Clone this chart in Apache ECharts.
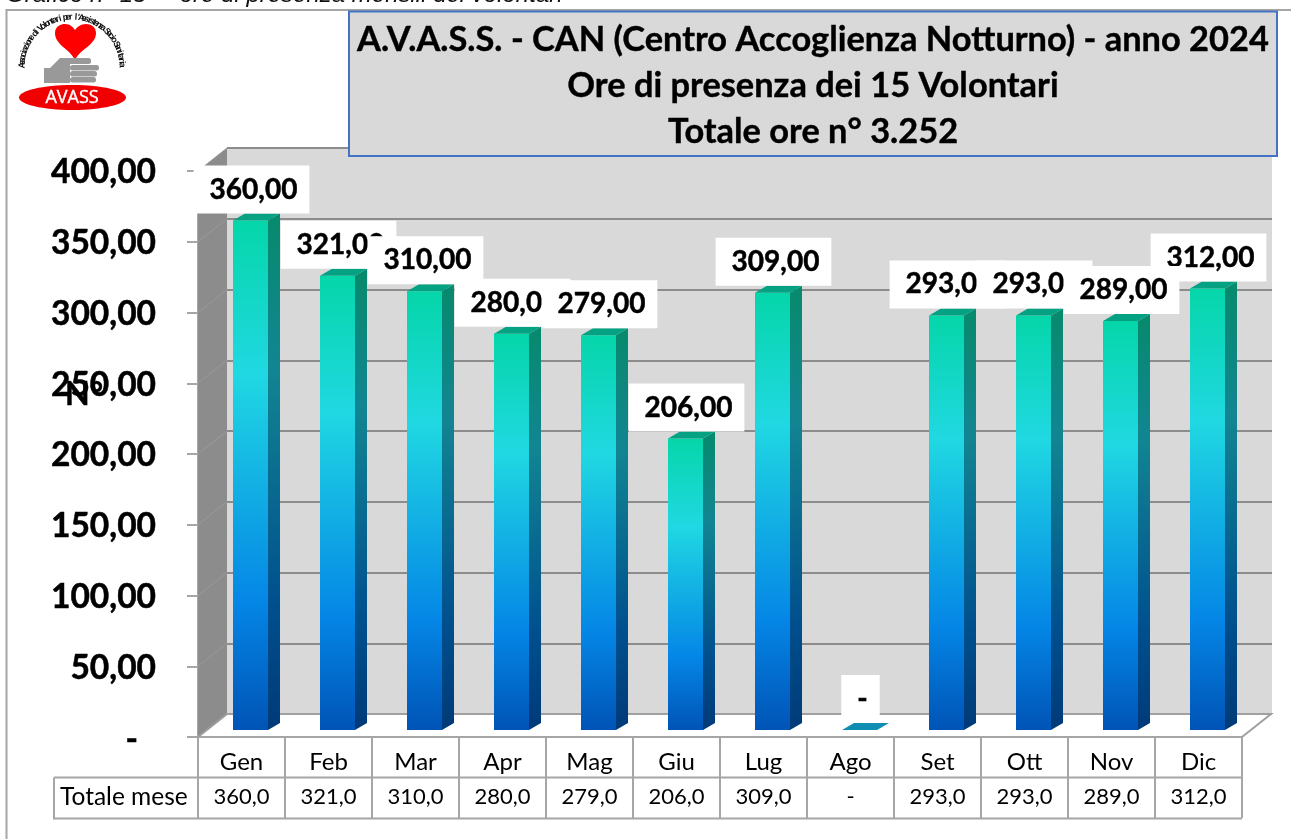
<!DOCTYPE html>
<html>
<head>
<meta charset="utf-8">
<style>html,body{margin:0;padding:0;background:#fff}#c{width:1291px;height:839px}</style>
<script src="https://cdn.jsdelivr.net/npm/echarts@6/dist/echarts.min.js"></script>
</head>
<body>
<div id="c"></div>
<script>
const categories = ['Gen','Feb','Mar','Apr','Mag','Giu','Lug','Ago','Set','Ott','Nov','Dic'];
const oreMese = [360,321,310,280,279,206,309,0,293,293,289,312];
const yTicks = [0,50,100,150,200,250,300,350,400];
const titleLines = ['A.V.A.S.S. - CAN (Centro Accoglienza Notturno) - anno 2024','Ore di presenza dei 15 Volontari','Totale ore n° 3.252'];
const caption = 'Grafico n° 15  – ore di presenza mensili dei volontari';
const rowLabel = 'Totale mese';
const yName = 'N°';
const arcText = "Associazione di Volontari per l'Assistenza Socio Sanitaria";

const FONT = 'Lato, "Open Sans", sans-serif';
const G = '#a6a6a6';
const grad = (s) => ({type:'linear',x:0,y:0,x2:0,y2:1,colorStops:s.map(([o,c])=>({offset:o,color:c}))});
const frontGrad = grad([[0,'#05d6a9'],[.3,'#20d8e2'],[.75,'#0486e6'],[1,'#0054b6']]);
const sideGrad = grad([[0,'#078a6c'],[.3,'#128592'],[.75,'#00508e'],[1,'#003a78']]);
const num2 = v => v === 0 ? '-' : v.toFixed(2).replace('.',',');
const num1 = v => v === 0 ? '-' : v.toFixed(1).replace('.',',');

const FL = 198, FT = 171, FW = 1044, FH = 566;   // front plane
const DX = 29, DY = 23;                          // depth of the box
const BOX = {left:FL, top:FT, width:FW, height:FH};

function renderWall(params, api){
  const v = api.value(0);
  const cs = params.coordSys;
  const y = api.coord([0,v])[1];
  const children = [];
  if (params.dataIndex === 0) {
    const yt = api.coord([0,400])[1];
    children.push({type:'polygon',shape:{points:[[cs.x,y],[cs.x+DX,y-DY],[cs.x+DX,yt-DY],[cs.x,yt]]},style:{fill:'#8c8c8c'}});
    children.push({type:'polyline',shape:{points:[[cs.x,y],[cs.x+DX,y-DY],[cs.x+cs.width+DX,y-DY],[cs.x+cs.width,y]]},style:{fill:'none',stroke:'#a0a0a0',lineWidth:2}});
  }
  children.push({type:'line',shape:{x1:cs.x,y1:y,x2:cs.x+DX,y2:y-DY},style:{stroke:'#9a9a9a',lineWidth:1}});
  return {type:'group',children};
}

function renderBar(params, api){
  const i = api.value(0), v = api.value(1);
  const [cx, yv] = api.coord([i, v]);
  const y0 = api.coord([i, 0])[1];
  const dx = 9, dy = -7, hw = 17.5, sx = 12, sy = 7;
  const l = cx+dx-hw, r = cx+dx+hw, top = yv+dy, base = y0+dy;
  const children = [];
  if (v > 0) {
    children.push({type:'polygon',shape:{points:[[r,top],[r+sx,top-sy],[r+sx,base-sy],[r,base]]},style:{fill:sideGrad}});
    children.push({type:'rect',shape:{x:l,y:top,width:r-l,height:base-top},style:{fill:frontGrad}});
  }
  children.push({type:'polygon',shape:{points:[[l,top],[l+sx,top-sy],[r+sx,top-sy],[r,top]]},style:{fill:v>0?'#04a282':'#0f8db2'}});
  // the last label sits under its neighbour in the reference
  const labelZ = i === categories.length-1 ? 99 : 100+i;
  children.push({type:'text',z2:labelZ,style:{text:num2(v),x:cx+dx+1,y:top-sy-24,align:'center',verticalAlign:'middle',
    font:'bold 28px '+FONT,fill:'#000',stroke:'#000',lineWidth:0.5,backgroundColor:'#fff',padding:[12,12,8,16]}});
  return {type:'group',children};
}

function renderLogo(){
  const logo = [];
  logo.push({type:'path',shape:{pathData:'M75 60 C70 49 55 45 55 33 C55 26 61 24 65 24 C70 24 73 27 75 30 C77 27 81 24 86 24 C91 24 96 27 96 33 C96 45 80 49 75 60 Z',x:55,y:24,width:41,height:36,layout:'cover'},style:{fill:'#ff0000'}});
  logo.push({type:'polygon',shape:{points:[[44,83],[44,68],[50,68],[60,58],[70,58],[70,83]]},style:{fill:'#999'}});
  [[60,58,31,6],[70,65,29,5.5],[70,71,27,5.5],[70,77,26,5.5]].forEach(a=>logo.push({type:'rect',shape:{x:a[0],y:a[1],width:a[2],height:a[3],r:2.5},style:{fill:'#999'}}));
  logo.push({type:'ellipse',shape:{cx:72.5,cy:97.5,rx:53.5,ry:12.5},style:{fill:'#f00000'}});
  logo.push({type:'text',style:{text:'AVASS',x:72,y:98,align:'center',verticalAlign:'middle',font:'18px "Open Sans",sans-serif',fill:'#fff',stroke:'#fff',lineWidth:0.4}});
  [...arcText].forEach((ch,k,arr)=>{
    const th = (-88 + 176*k/(arr.length-1))*Math.PI/180;
    logo.push({type:'text',rotation:-th,x:72+50*Math.sin(th),y:67-50*Math.cos(th),
      style:{text:ch,x:0,y:0,align:'center',verticalAlign:'middle',font:'bold 9px "Liberation Sans Narrow","Liberation Sans",sans-serif',fill:'#111'}});
  });
  return {type:'group',children:logo};
}

const graphics = [
  {type:'text',z:1,style:{text:caption,x:6,y:-17,font:'italic 24px "Liberation Sans",sans-serif',fill:'#111'}},
  {type:'polyline',z:1,shape:{points:[[6.5,839],[6.5,10],[1291,10]]},style:{fill:'none',stroke:G,lineWidth:2}},
  {type:'rect',z:50,shape:{x:349,y:11.5,width:928,height:144.5},style:{fill:'#d9d9d9',stroke:'#4472c4',lineWidth:2}},
  {type:'polyline',z:1,shape:{points:[[54,777.5],[54,818.5],[1242,818.5]]},style:{fill:'none',stroke:G,lineWidth:2}},
  {type:'line',z:1,shape:{x1:54,y1:777.5,x2:1242,y2:777.5},style:{stroke:G,lineWidth:2}},
  {type:'text',z:51,style:{text:rowLabel,x:60,y:797,verticalAlign:'middle',font:'24.5px '+FONT,fill:'#000'}},
  {type:'text',z:51,style:{text:yName,x:65,y:395,verticalAlign:'middle',font:'bold 32px '+FONT,fill:'#000',stroke:'#000',lineWidth:0.5}}
];
titleLines.forEach((t,k)=>graphics.push({type:'text',z:51,style:{text:t,x:813,y:[40,86,132][k],align:'center',verticalAlign:'middle',font:'bold 34.4px '+FONT,fill:'#000',stroke:'#000',lineWidth:0.4}}));

const option = {
  animation:false,
  backgroundColor:'#fff',
  grid:[
    {...BOX, show:false},
    {left:FL+DX, top:FT-DY, width:FW+1, height:FH, show:true, backgroundColor:'#d9d9d9', borderWidth:0}
  ],
  xAxis:[
    {type:'category',gridIndex:0,data:categories,
      axisLine:{show:true,lineStyle:{color:G,width:2}},
      axisTick:{show:true,length:81,alignWithLabel:false,lineStyle:{color:G,width:2}},
      axisLabel:{show:true,interval:0,margin:5,formatter:(val,idx)=>`{m|${val}}\n{v|${num1(oreMese[idx])}}`,
        rich:{m:{fontFamily:FONT,fontSize:24,lineHeight:40,color:'#000',align:'center'},
              v:{fontFamily:FONT,fontSize:22,lineHeight:30,color:'#000',align:'center'}}}},
    {type:'category',gridIndex:1,data:categories,show:false}
  ],
  yAxis:[
    {type:'value',gridIndex:0,min:0,max:400,interval:50,
      axisLine:{show:true,lineStyle:{color:G,width:2}},
      axisTick:{show:true,length:11,lineStyle:{color:G,width:2}},
      splitLine:{show:false},
      axisLabel:{margin:42,padding:[3,0,0,0],formatter:v=>v===0?'{d|-}':num2(v),fontFamily:FONT,fontWeight:'bold',fontSize:33.5,color:'#000',textBorderColor:'#000',textBorderWidth:0.5,
        rich:{d:{fontFamily:FONT,fontWeight:'bold',fontSize:33.5,color:'#000',padding:[4,18,0,0]}}}},
    {type:'value',gridIndex:1,min:0,max:400,interval:50,
      axisLine:{show:false},axisTick:{show:false},axisLabel:{show:false},
      splitLine:{show:true,lineStyle:{color:'#8c8c8c',width:2}}}
  ],
  graphic:graphics,
  series:[
    {type:'custom',name:'logo',z:1,silent:true,coordinateSystem:'none',data:[[0]],renderItem:renderLogo,clip:false},
    {type:'custom',name:'wall',z:1,silent:true,xAxisIndex:0,yAxisIndex:0,data:yTicks.map(v=>[v]),encode:{y:0},renderItem:renderWall,clip:false},
    {type:'custom',name:'Ore',z:2,silent:true,xAxisIndex:0,yAxisIndex:0,data:oreMese.map((v,i)=>[i,v]),encode:{x:0,y:1},renderItem:renderBar,clip:false}
  ]
};
const chart = echarts.init(document.getElementById('c'));
chart.setOption(option);
</script>
</body>
</html>
